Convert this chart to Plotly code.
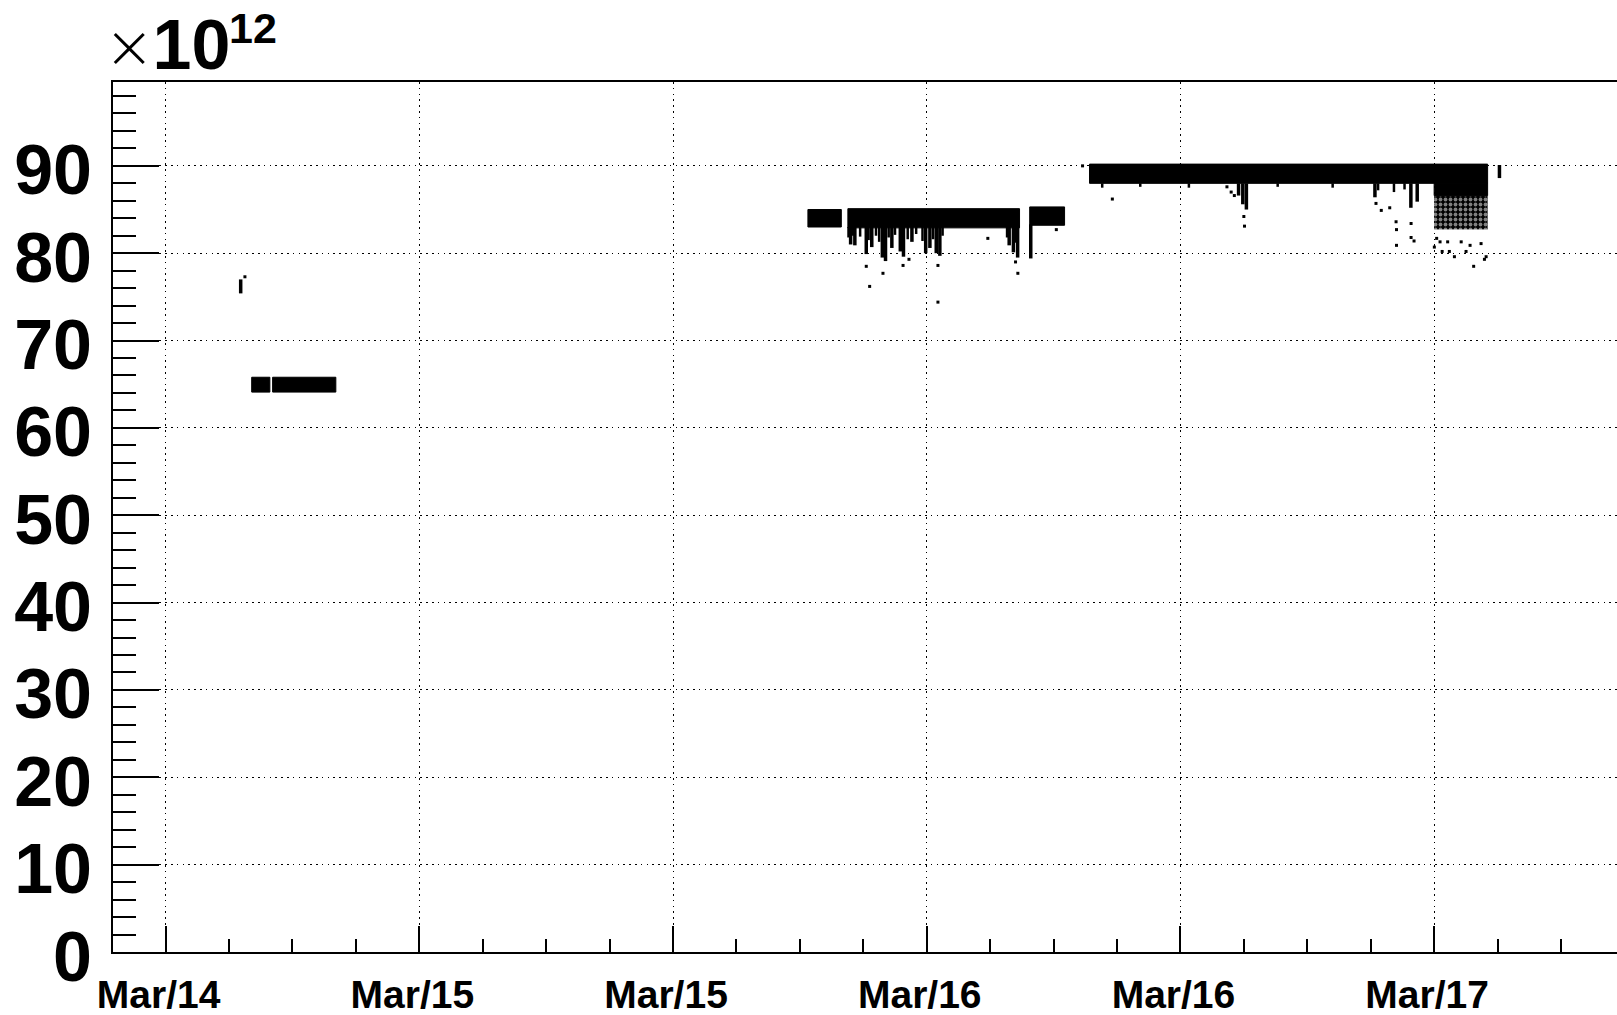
import pandas as pd
import plotly.graph_objects as go

# Time origin of the record: hours below are counted from here
T_ORIGIN = pd.Timestamp("2013-03-14 12:00")

# Continuous running periods: start/end hour, upper/lower edge (units of 1e12)
band_start = [4.07, 5.06, 30.38, 32.27, 40.87, 43.70]
band_end = [4.93, 8.05, 31.96, 40.39, 42.52, 62.53]
band_high = [65.8, 65.8, 85.0, 85.1, 85.3, 90.2]
band_low = [64.1, 64.1, 83.0, 82.9, 83.2, 88.0]

# Dense low tail at the end of the last period
tail_start, tail_end = 60.0, 62.53
tail_solid_low = 86.6
tail_sparse_low = 82.7

# Deep downward excursions: hour, top, bottom
streak_hour = [3.55, 32.40, 32.60, 33.14, 33.40, 33.90, 34.05, 34.35, 34.75,
               34.90, 35.30, 35.95, 36.15, 36.45, 36.62, 39.90, 40.10, 40.30,
               40.92, 50.75, 50.95, 51.12, 57.20, 58.90, 59.20, 63.09]
streak_top = [77.0, 83.0, 83.0, 83.0, 83.0, 83.0, 83.0, 83.0, 83.0,
              83.0, 83.0, 83.0, 83.0, 83.0, 83.0, 83.2, 83.2, 83.2,
              83.3, 88.0, 88.0, 88.0, 88.0, 88.0, 88.0, 90.1]
streak_bottom = [75.4, 81.0, 80.9, 79.9, 80.7, 79.5, 79.1, 80.6, 80.2,
                 79.6, 81.3, 80.0, 80.6, 80.0, 79.7, 80.9, 80.1, 79.5,
                 79.4, 86.6, 85.6, 85.0, 86.4, 85.2, 85.9, 88.6]

# Shallow downward excursions: hour, top, bottom
dip_hour = [32.30, 32.50, 32.85, 33.25, 33.60, 33.75, 34.20, 34.50, 35.10,
            35.50, 35.80, 36.30, 36.75, 39.80, 40.20, 44.30, 46.10, 48.40,
            52.60, 55.20, 57.35, 58.10, 58.60]
dip_top = [83.0, 83.0, 83.0, 83.0, 83.0, 83.0, 83.0, 83.0, 83.0,
           83.0, 83.0, 83.0, 83.0, 83.2, 83.2, 88.0, 88.0, 88.0,
           88.0, 88.0, 88.0, 88.0, 88.0]
dip_bottom = [81.8, 82.0, 81.9, 81.5, 82.0, 81.3, 81.8, 82.1, 81.6,
              82.2, 81.4, 81.6, 82.0, 81.8, 81.2, 87.5, 87.6, 87.5,
              87.6, 87.5, 87.2, 87.0, 87.3]

# Isolated readings
point_hour = [3.75, 33.30, 33.93, 33.14, 34.88, 35.16, 36.53, 36.53, 38.89,
              40.31, 40.20, 42.13, 43.37, 44.78, 50.20, 50.40, 50.55, 51.00,
              51.03, 57.25, 57.50, 57.90, 58.20, 58.22, 58.22, 58.91, 58.91,
              59.05, 60.12, 60.28, 60.01, 60.64, 60.96, 61.28, 61.51, 61.87,
              62.22, 62.38, 60.72, 61.70, 62.46, 60.38]
point_value = [77.3, 76.2, 77.7, 78.5, 78.6, 79.3, 78.6, 74.4, 81.7,
               77.7, 79.0, 82.7, 90.0, 86.2, 87.6, 87.0, 86.6, 84.2,
               83.1, 85.7, 84.9, 85.2, 83.6, 82.7, 80.9, 83.4, 81.8,
               81.4, 81.7, 81.3, 80.7, 81.3, 79.6, 81.3, 80.2, 78.5,
               81.1, 79.3, 80.2, 80.9, 79.6, 80.2]

# Axis settings
x_first_hour, x_last_hour = -2.49, 68.65
y_max = 99.6
y_tick_values = [0, 10, 20, 30, 40, 50, 60, 70, 80, 90]


def when(hours):
    return [None if h is None else T_ORIGIN + pd.Timedelta(hours=h) for h in hours]


def strokes(hours, tops, bottoms):
    xs, ys = [], []
    for h, top, bot in zip(hours, tops, bottoms):
        xs += [h, h, None]
        ys += [top, bot, None]
    return when(xs), ys


FONT = "Liberation Sans, Arial, Helvetica, sans-serif"
fig = go.Figure()

# running periods as filled rectangles
for t0, t1, hi, lo in zip(band_start, band_end, band_high, band_low):
    fig.add_trace(go.Scatter(
        x=when([t0, t1, t1, t0, t0]), y=[lo, lo, hi, hi, lo],
        mode="lines", fill="toself", fillcolor="black",
        line=dict(color="black", width=1), hoverinfo="skip", showlegend=False))

# tail: speckled part then solid part
fig.add_trace(go.Scatter(
    x=when([tail_start, tail_end, tail_end, tail_start, tail_start]),
    y=[tail_sparse_low, tail_sparse_low, tail_solid_low, tail_solid_low, tail_sparse_low],
    mode="lines", fill="toself", fillcolor="black",
    fillpattern=dict(shape=".", fgcolor="white", bgcolor="black", size=5, solidity=0.45),
    line=dict(width=0), hoverinfo="skip", showlegend=False))
fig.add_trace(go.Scatter(
    x=when([tail_start, tail_end, tail_end, tail_start, tail_start]),
    y=[tail_solid_low, tail_solid_low, band_low[-1], band_low[-1], tail_solid_low],
    mode="lines", fill="toself", fillcolor="black",
    line=dict(color="black", width=1), hoverinfo="skip", showlegend=False))

# excursions as vertical strokes
sx, sy = strokes(dip_hour, dip_top, dip_bottom)
fig.add_trace(go.Scatter(
    x=sx, y=sy, mode="lines", line=dict(color="black", width=2.5),
    connectgaps=False, hoverinfo="skip", showlegend=False))
sx, sy = strokes(streak_hour, streak_top, streak_bottom)
fig.add_trace(go.Scatter(
    x=sx, y=sy, mode="lines", line=dict(color="black", width=3.5),
    connectgaps=False, hoverinfo="skip", showlegend=False))

# isolated readings
fig.add_trace(go.Scatter(
    x=when(point_hour), y=point_value, mode="markers",
    marker=dict(symbol="square", size=3, color="black", line=dict(width=0)),
    hoverinfo="skip", showlegend=False))

grid_dash = "1.5px,4.3px"
fig.update_xaxes(
    type="date",
    range=when([x_first_hour, x_last_hour]),
    tick0=T_ORIGIN, dtick=12 * 3600 * 1000, tickformat="%b/%d",
    ticks="inside", ticklen=26, tickwidth=1.5, tickcolor="black",
    minor=dict(dtick=3 * 3600 * 1000, ticks="inside", ticklen=13, tickwidth=1.5,
               tickcolor="black", showgrid=False),
    showgrid=True, gridcolor="black", gridwidth=1, griddash=grid_dash,
    showline=True, linecolor="black", linewidth=2, mirror=True,
    zeroline=False, ticklabelshift=-7, ticklabelstandoff=7,
    tickfont=dict(family=FONT, size=39, color="black", weight="bold"),
)
fig.update_yaxes(
    range=[0, y_max],
    tickvals=y_tick_values,
    ticks="inside", ticklen=46, tickwidth=1.5, tickcolor="black",
    minor=dict(dtick=2, ticks="inside", ticklen=23, tickwidth=1.5,
               tickcolor="black", showgrid=False),
    showgrid=True, gridcolor="black", gridwidth=1, griddash=grid_dash,
    showline=True, linecolor="black", linewidth=2, mirror=False,
    zeroline=False, ticklabelshift=4, ticklabelstandoff=5,
    tickfont=dict(family=FONT, size=70, color="black", weight="bold"),
)

# exponent factor above the y axis: thin multiplication sign and bold 10 ...
fig.add_annotation(
    text=('<span style="font-family:Inter, Lato, DejaVu Sans, sans-serif;'
          'font-weight:200;font-size:72px">×</span><b>10</b>'),
    xref="paper", yref="paper", x=0, y=1,
    xanchor="left", yanchor="bottom", xshift=-9, yshift=-6,
    showarrow=False, font=dict(family=FONT, size=70, color="black"))
# ... with the raised exponent
fig.add_annotation(text="<b>12</b>", xref="paper", yref="paper", x=0, y=1,
                   xanchor="left", yanchor="bottom", xshift=114, yshift=28,
                   showarrow=False, font=dict(family=FONT, size=43, color="black"))

fig.update_layout(
    width=1617, height=1015,
    margin=dict(l=113, r=0, t=82, b=63, pad=0),
    paper_bgcolor="white", plot_bgcolor="white",
    showlegend=False,
)

fig.write_html("out.html")
